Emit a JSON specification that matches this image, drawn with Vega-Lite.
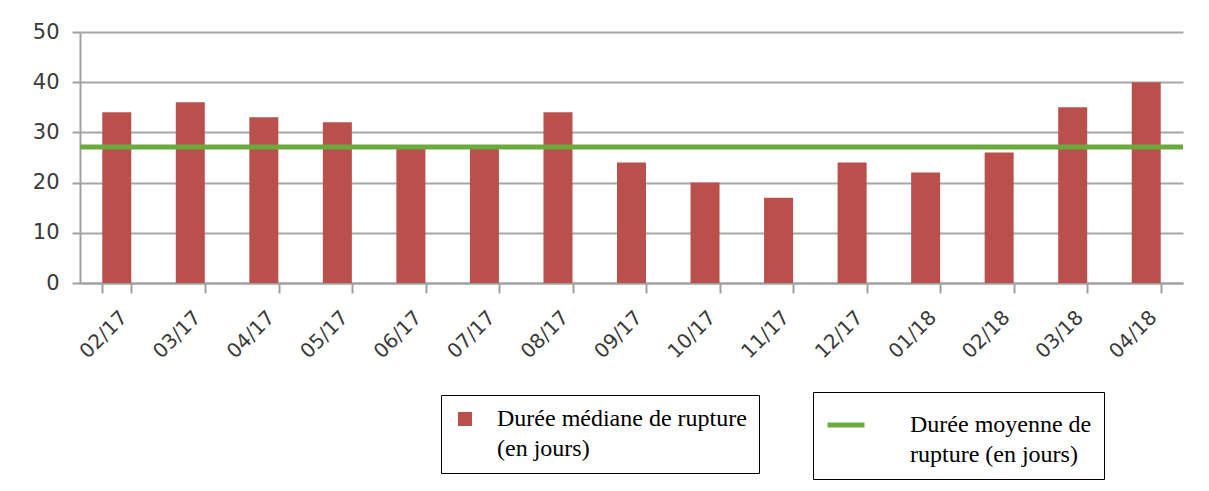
{
  "$schema": "https://vega.github.io/schema/vega-lite/v6.json",
  "width": 1103,
  "height": 251,
  "autosize": {"type": "none"},
  "padding": {"left": 80, "top": 32, "right": 26, "bottom": 208},
  "background": "white",
  "config": {
    "view": {"stroke": null},
    "font": "DejaVu Sans"
  },
  "datasets": {
    "bars": [
      {"mois": "02/17", "duree": 34},
      {"mois": "03/17", "duree": 36},
      {"mois": "04/17", "duree": 33},
      {"mois": "05/17", "duree": 32},
      {"mois": "06/17", "duree": 27},
      {"mois": "07/17", "duree": 27},
      {"mois": "08/17", "duree": 34},
      {"mois": "09/17", "duree": 24},
      {"mois": "10/17", "duree": 20},
      {"mois": "11/17", "duree": 17},
      {"mois": "12/17", "duree": 24},
      {"mois": "01/18", "duree": 22},
      {"mois": "02/18", "duree": 26},
      {"mois": "03/18", "duree": 35},
      {"mois": "04/18", "duree": 40}
    ],
    "moyenne": [
      {"serie": "Durée moyenne de rupture (en jours)", "valeur": 27.1}
    ]
  },
  "layer": [
    {
      "data": {"name": "bars"},
      "mark": {"type": "bar", "width": 29},
      "encoding": {
        "x": {
          "field": "mois", "type": "nominal", "sort": null,
          "scale": {"paddingInner": 0.6, "paddingOuter": 0.3},
          "axis": {
            "title": null, "labelAngle": -45, "labelAlign": "right", "labelBaseline": "top",
            "labelFont": "DejaVu Sans", "labelFontSize": 20, "labelColor": "#3a3a3a",
            "labelPadding": 14,
            "domainColor": "#a0a0a0", "domainWidth": 2,
            "tickColor": "#a0a0a0", "tickWidth": 2, "tickSize": 10, "tickBand": "extent",
            "grid": false
          }
        },
        "y": {
          "field": "duree", "type": "quantitative",
          "scale": {"domain": [0, 50], "nice": false},
          "axis": {
            "title": null, "values": [0, 10, 20, 30, 40, 50],
            "labelFont": "DejaVu Sans", "labelFontSize": 21, "labelColor": "#3a3a3a",
            "labelPadding": 13,
            "domainColor": "#a0a0a0", "domainWidth": 2,
            "tickColor": "#a0a0a0", "tickWidth": 2, "tickSize": 8,
            "grid": true, "gridColor": "#a6a6a6", "gridWidth": 2
          }
        },
        "fill": {
          "datum": "Durée médiane de rupture (en jours)",
          "type": "nominal",
          "scale": {"range": ["#b9504c"]},
          "legend": {
            "title": null, "orient": "none", "legendX": 361, "legendY": 363,
            "symbolType": "square", "symbolSize": 196, "symbolStrokeWidth": 0,
            "labelFont": "Liberation Serif", "labelFontSize": 24, "labelColor": "#000000",
            "labelLimit": 400, "labelOffset": 20,
            "labelExpr": "['Durée médiane de rupture', '(en jours)']",
            "encode": {"labels": {"update": {"lineHeight": {"value": 30}}}},
            "strokeColor": "#000000", "padding": 12, "fillColor": "white"
          }
        }
      }
    },
    {
      "data": {"name": "moyenne"},
      "mark": {"type": "rule", "strokeWidth": 5},
      "encoding": {
        "y": {"field": "valeur", "type": "quantitative"},
        "stroke": {
          "field": "serie", "type": "nominal",
          "scale": {"range": ["#6aab3c"]},
          "legend": {
            "title": null, "orient": "none", "legendX": 733, "legendY": 360,
            "symbolType": "stroke", "symbolSize": 1369, "symbolStrokeWidth": 5,
            "labelFont": "Liberation Serif", "labelFontSize": 24, "labelColor": "#000000",
            "labelLimit": 400, "labelOffset": 43,
            "labelExpr": "['Durée moyenne de', 'rupture (en jours)']",
            "encode": {"labels": {"update": {"lineHeight": {"value": 30}}}},
            "strokeColor": "#000000", "padding": 12, "fillColor": "white"
          }
        }
      }
    }
  ]
}
